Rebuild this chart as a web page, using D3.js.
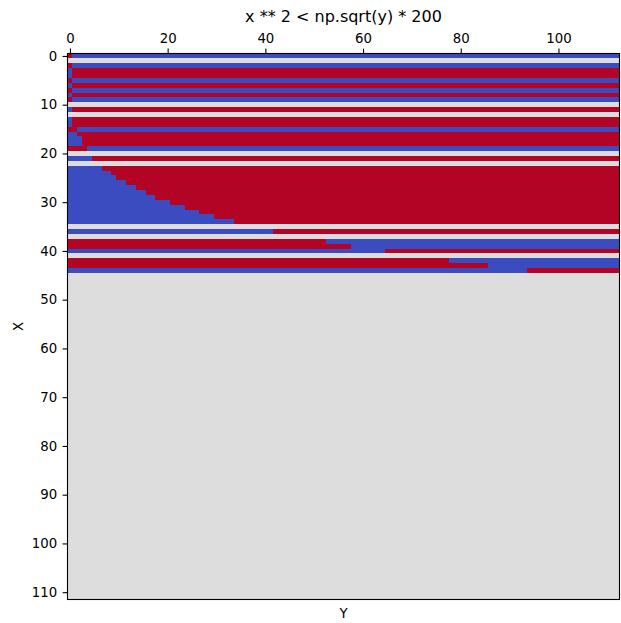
<!DOCTYPE html>
<html>
<head>
<meta charset="utf-8">
<script src="https://cdn.jsdelivr.net/npm/d3@7"></script>
<style>
  body { margin: 0; background: #fff; }
  svg { display: block; font-family: "DejaVu Sans", sans-serif; }
</style>
</head>
<body>
<svg id="chart"></svg>
<script>
// grid size: columns are Y, rows are X
const nCols = 113;
const nRows = 112;

const title = "x ** 2 < np.sqrt(y) * 200";
const xTicks = [0, 20, 40, 60, 80, 100];
const yTicks = [0, 10, 20, 30, 40, 50, 60, 70, 80, 90, 100, 110];

// one entry per filled row (rows 0..44), rows after that have no value
// value of the left run, column where it switches, value of the right run
// 1 = true (red), -1 = false (blue), 0 = no value (grey)
const leftValue = [
  1, 0, 1, -1, -1, 1, -1, 1, -1, 1,
  0, -1, 0, -1, -1, 1, -1, -1, -1, 1,
  0, -1, 0, -1, -1, -1, -1, -1, -1, -1,
  -1, -1, -1, -1, -1, 0, -1, 0, 1, 1,
  -1, 0, 1, 1, -1,
];
const switchCol = [
  1, 0, 1, 1, 1, 1, 1, 1, 1, 1,
  0, 1, 0, 1, 1, 2, 2, 3, 3, 4,
  0, 5, 0, 7, 9, 10, 12, 14, 16, 18,
  21, 24, 27, 30, 34, 0, 42, 0, 53, 58,
  65, 0, 78, 86, 94,
];
const rightValue = [
  -1, 0, -1, 1, 1, -1, 1, -1, 1, -1,
  0, 1, 0, 1, 1, -1, 1, 1, 1, -1,
  0, 1, 0, 1, 1, 1, 1, 1, 1, 1,
  1, 1, 1, 1, 1, 0, 1, 0, -1, -1,
  1, 0, -1, -1, 1,
];

const margin = { top: 53.5, right: 1.5, bottom: 23.5, left: 67.5 };
const width = 621;
const height = 623;
const plotW = width - margin.left - margin.right;
const plotH = height - margin.top - margin.bottom;

// build the cell table from the row runs
const cells = [];
for (let r = 0; r < nRows; r++) {
  for (let c = 0; c < nCols; c++) {
    let v = 0;
    if (r < leftValue.length) {
      v = c < switchCol[r] ? leftValue[r] : rightValue[r];
    }
    cells.push({ row: r, col: c, value: v });
  }
}

const svg = d3.select("#chart").attr("width", width).attr("height", height);

const chart = svg
  .append("g")
  .attr("transform", `translate(${margin.left},${margin.top})`);

const xScale = d3.scaleLinear().domain([-0.5, nCols - 0.5]).range([0, plotW]);
const yScale = d3.scaleLinear().domain([-0.5, nRows - 0.5]).range([0, plotH]);

// coolwarm ends and middle
const color = d3
  .scaleLinear()
  .domain([-1, 0, 1])
  .range(["#3b4cc0", "#dddddd", "#b40426"]);

chart
  .append("g")
  .attr("shape-rendering", "crispEdges")
  .selectAll("rect")
  .data(cells)
  .join("rect")
  .attr("x", (d) => xScale(d.col - 0.5))
  .attr("y", (d) => yScale(d.row - 0.5))
  .attr("width", (d) => xScale(d.col + 0.5) - xScale(d.col - 0.5))
  .attr("height", (d) => yScale(d.row + 0.5) - yScale(d.row - 0.5))
  .attr("fill", (d) => color(d.value));

// frame
chart
  .append("rect")
  .attr("width", plotW)
  .attr("height", plotH)
  .attr("fill", "none")
  .attr("stroke", "#000")
  .attr("stroke-width", 1.1);

const xAxis = d3.axisTop(xScale).tickValues(xTicks).tickSize(4.9).tickPadding(5.5);
const yAxis = d3.axisLeft(yScale).tickValues(yTicks).tickSize(4.9).tickPadding(5.5);

const xAxisGroup = chart.append("g").call(xAxis);
const yAxisGroup = chart.append("g").call(yAxis);

[xAxisGroup, yAxisGroup].forEach((g) => {
  g.select(".domain").remove();
  g.selectAll(".tick line").attr("stroke", "#000").attr("stroke-width", 1.1);
  g.selectAll(".tick text")
    .attr("fill", "#000")
    .style("font-size", "13.3px")
    .style("font-family", "DejaVu Sans, sans-serif");
});

// title
svg
  .append("text")
  .attr("x", margin.left + plotW / 2)
  .attr("y", 22)
  .attr("text-anchor", "middle")
  .style("font-size", "16px")
  .text(title);

// axis labels
svg
  .append("text")
  .attr("x", margin.left + plotW / 2)
  .attr("y", 618)
  .attr("text-anchor", "middle")
  .style("font-size", "13.3px")
  .text("Y");

svg
  .append("text")
  .attr("transform", `translate(23,${margin.top + plotH / 2}) rotate(-90)`)
  .attr("text-anchor", "middle")
  .style("font-size", "13.3px")
  .text("X");
</script>
</body>
</html>
